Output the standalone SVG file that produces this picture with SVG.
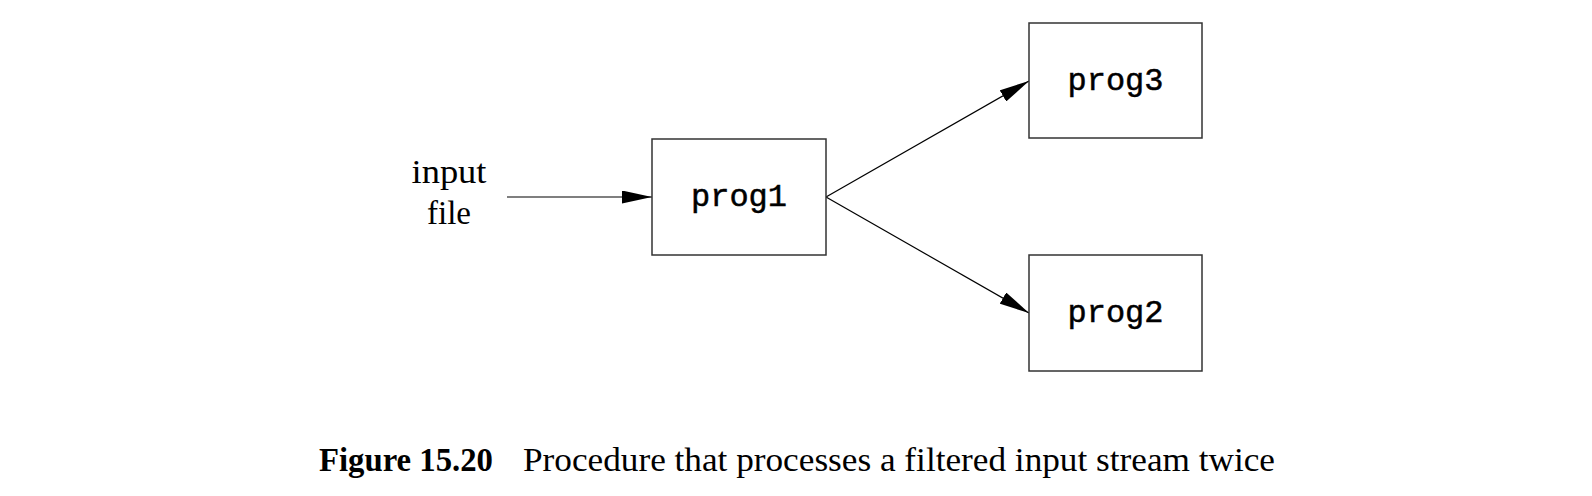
<svg xmlns="http://www.w3.org/2000/svg" width="1592" height="496" viewBox="0 0 1592 496">
<style>
.box{fill:#fff;stroke:#333;stroke-width:1.5}
.mono{font-family:"Liberation Mono","Courier New",monospace;font-size:32px;fill:#000;stroke:#000;stroke-width:0.5;text-anchor:middle}
.serif{font-family:"Liberation Serif","Times New Roman",serif;font-size:33px;fill:#000}
.conn{stroke:#000;stroke-width:1.2;fill:none}
</style>
<defs>
<marker id="arr" markerUnits="userSpaceOnUse" viewBox="0 0 30 13" refX="30" refY="6.5" markerWidth="30" markerHeight="13" orient="auto">
<path d="M0,0 L30,6.5 L0,13 z" fill="#000"/>
</marker>
</defs>
<rect width="1592" height="496" fill="#fff"/>
<g id="connectors">
<line class="conn" x1="507" y1="197" x2="652" y2="197" marker-end="url(#arr)"/>
<line class="conn" x1="826" y1="197" x2="1029" y2="81" marker-end="url(#arr)"/>
<line class="conn" x1="826" y1="197" x2="1029" y2="313" marker-end="url(#arr)"/>
</g>
<g id="input">
<text class="serif" x="449" y="183" text-anchor="middle" textLength="75" lengthAdjust="spacingAndGlyphs">input</text>
<text class="serif" x="449" y="224" text-anchor="middle">file</text>
</g>
<g id="prog1">
<rect class="box" x="652" y="139" width="174" height="116"/>
<text class="mono" x="739" y="206">prog1</text>
</g>
<g id="prog3">
<rect class="box" x="1029" y="23" width="173" height="115"/>
<text class="mono" x="1115.5" y="90">prog3</text>
</g>
<g id="prog2">
<rect class="box" x="1029" y="255" width="173" height="116"/>
<text class="mono" x="1115.5" y="322">prog2</text>
</g>
<g id="caption">
<text class="serif" x="319" y="471" font-weight="bold" textLength="174" lengthAdjust="spacingAndGlyphs">Figure 15.20</text>
<text class="serif" x="523" y="471" textLength="752" lengthAdjust="spacingAndGlyphs">Procedure that processes a filtered input stream twice</text>
</g>
</svg>
